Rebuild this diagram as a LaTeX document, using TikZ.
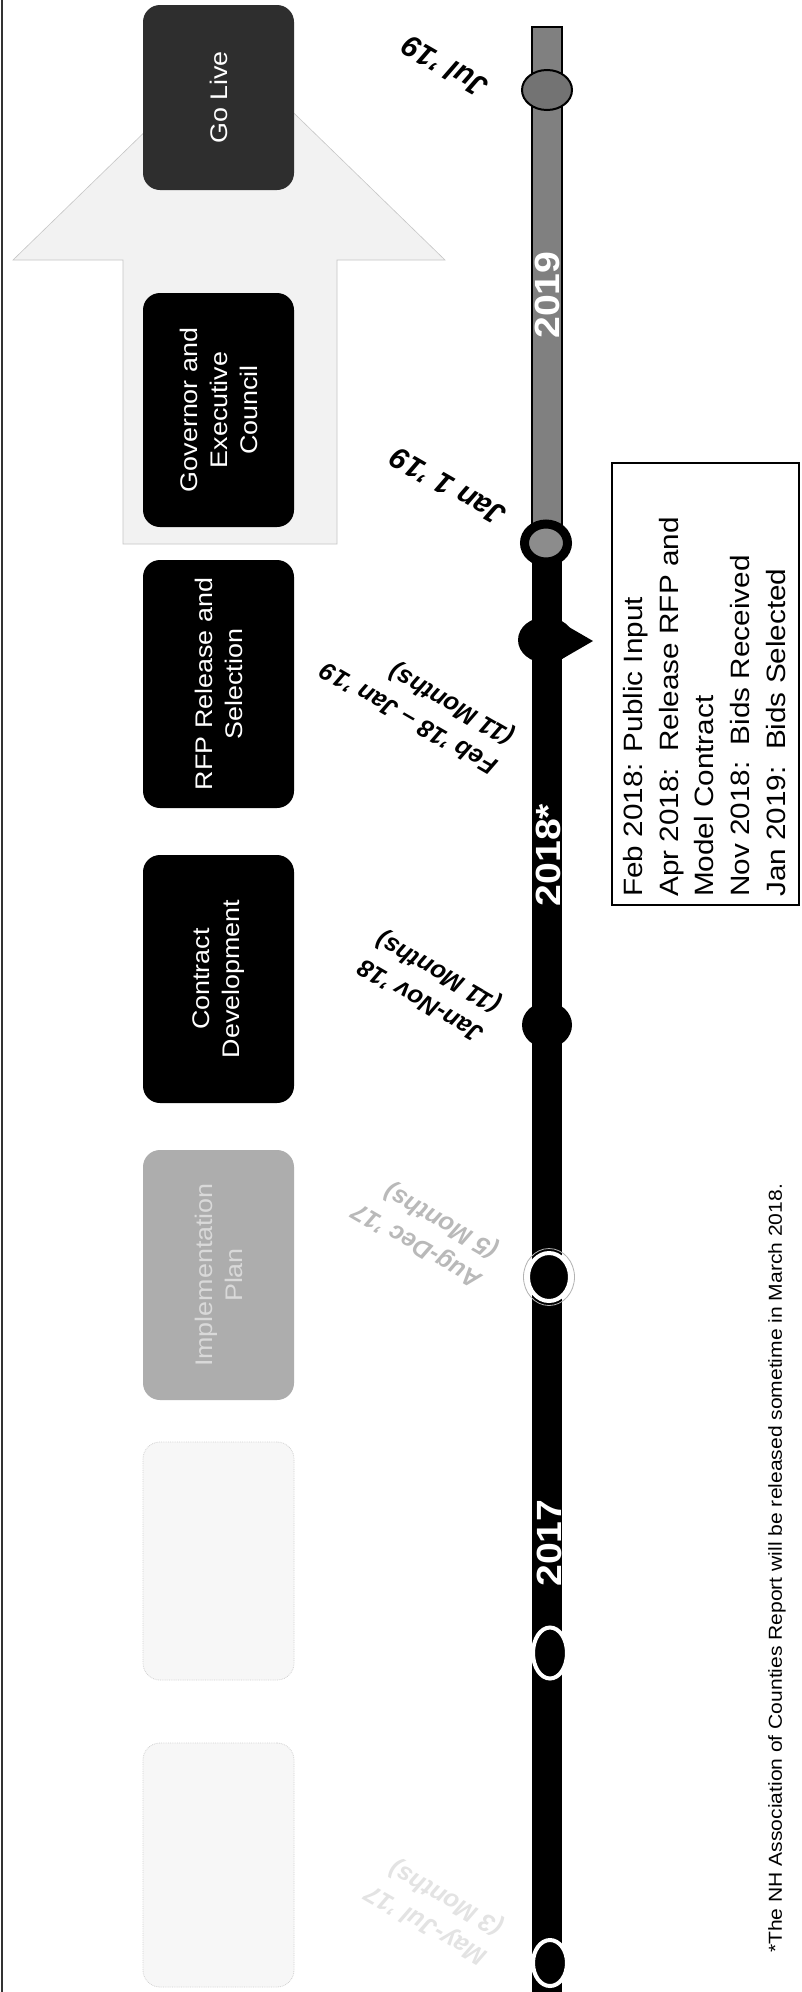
\documentclass[tikz,border=0pt]{standalone}
\usepackage{fontspec}
\setmainfont{Liberation Sans}
\usetikzlibrary{shapes.geometric}
\newcommand{\myfs}[2]{\fontsize{#1pt}{#2pt}\selectfont}
\begin{document}
\begin{tikzpicture}[x=1pt,y=-1pt,
  stage/.style={rectangle, rounded corners=17pt, minimum width=151pt, inner sep=0pt},
  stagetxt/.style={rotate=90, xscale=1.12, text=white, align=center, inner sep=0pt, font=\myfs{24}{30}},
  yr/.style={rotate=90, xscale=1.12, text=white, inner sep=0pt, font=\myfs{35}{35}\bfseries},
  datelbl/.style={rotate=150, align=left, inner sep=0pt, font=\myfs{25}{33}\bfseries\itshape},
  bigdate/.style={datelbl, font=\myfs{30}{30}\bfseries\itshape},
  mk/.style={ellipse, inner sep=0pt},
  faded/.style={stage, fill=gray!6, draw=gray!35, densely dotted, line width=0.8pt},
]
\useasboundingbox (0,0) rectangle (801,1992);
\fill[white] (0,0) rectangle (801,1992);
\draw[line width=1.2pt, black!80] (2,0) -- (2,1992);

% big faded arrow
\filldraw[fill=gray!10, draw=gray!45, line width=0.6pt]
  (123,544) -- (123,260) -- (13,260) -- (229,50) -- (445,260) -- (337,260) -- (337,544) -- cycle;

% stage boxes
\node[stage, fill=black!82, minimum height=185pt] (golive) at (218.5,97.5) {};
\node[stagetxt] (golivet) at (golive) {Go Live};
\node[stage, fill=black, minimum height=234pt] (gov) at (218.5,410) {};
\node[stagetxt] (govt) at (gov) {Governor and\\Executive\\Council};
\node[stage, fill=black, minimum height=248pt] (rfp) at (218.5,684) {};
\node[stagetxt] (rfpt) at (rfp) {RFP Release and\\Selection};
\node[stage, fill=black, minimum height=248pt] (contract) at (218.5,979) {};
\node[stagetxt] (contractt) at (contract) {Contract\\Development};
\node[stage, fill=black!32, minimum height=250pt] (impl) at (218.5,1275) {};
\node[stagetxt, text=white!85!black] (implt) at (impl) {Implementation\\Plan};
\node[faded, minimum height=238pt] (faded1) at (218.5,1561) {};
\node[faded, minimum height=244pt] (faded2) at (218.5,1865) {};

% timeline bar
\filldraw[fill=black!50, draw=black, line width=1.5pt] (532,27) rectangle (562,543);
\fill[black] (532,543) rectangle (562,1992);

% markers
\node[mk, fill=black!55, draw=black, line width=2pt, minimum width=50pt, minimum height=40pt] (jul19) at (547,90) {};
\node[mk, fill=black!45, draw=black, line width=9pt, minimum width=43pt, minimum height=38pt] (jan19) at (546,543) {};
\node[mk, fill=black, minimum width=56pt, minimum height=46pt] (pin) at (546,640) {};
\fill[black] (555,619) -- (593,641) -- (555,663) -- cycle;
\node[mk, fill=black, minimum width=50pt, minimum height=46pt] (jannov) at (547,1025) {};
\node[mk, draw=gray!60, line width=0.8pt, minimum width=51pt, minimum height=57pt] (augdecring) at (549,1277) {};
\node[mk, fill=black, draw=white, line width=4pt, minimum width=42pt, minimum height=48pt] (augdec) at (549,1277) {};
\node[mk, fill=black, draw=white, line width=4pt, minimum width=34pt, minimum height=51pt] (m2017) at (550,1653) {};
\node[mk, fill=black, draw=white, line width=4pt, minimum width=34pt, minimum height=46pt] (mstart) at (550,1963) {};

% year labels
\node[yr] (y2019) at (547,295) {2019};
\node[yr] (y2018) at (548,855) {2018*};
\node[yr] (y2017) at (549,1543) {2017};

% date labels
\node[bigdate] (djul) at (445,67) {Jul ’19};
\node[bigdate] (djan) at (448,487) {Jan 1 ’19};
\node[datelbl] (dfeb) at (418,703) {Feb ’18 – Jan ’19\\(11 Months)};
\node[datelbl] (djannov) at (430,985) {Jan-Nov ’18\\(11 Months)};
\node[datelbl, text=gray!55] (daug) at (426,1230) {Aug-Dec ’17\\(5 Months)};
\node[datelbl, text=gray!22] (dmay) at (435,1910) {May-Jul ’17\\(3 Months)};

% note box
\node[draw, line width=1.5pt, minimum width=187pt, minimum height=442pt, inner sep=0pt] (notebox) at (705.5,684) {};
\node[rotate=90, xscale=1.12, anchor=north west, align=left, inner sep=0pt, font=\myfs{26.5}{35.75}] (notes) at (623,897)
  {Feb 2018: Public Input\\Apr 2018:\ \ Release RFP and\\Model Contract\\Nov 2018:\ \ Bids Received\\Jan 2019:\ \ Bids Selected};

% footnote
\node[rotate=90, xscale=1.12, anchor=west, inner sep=0pt, font=\myfs{18.8}{22}] (foot) at (777,1953)
  {*The NH Association of Counties Report will be released sometime in March 2018.};
\end{tikzpicture}
\end{document}
